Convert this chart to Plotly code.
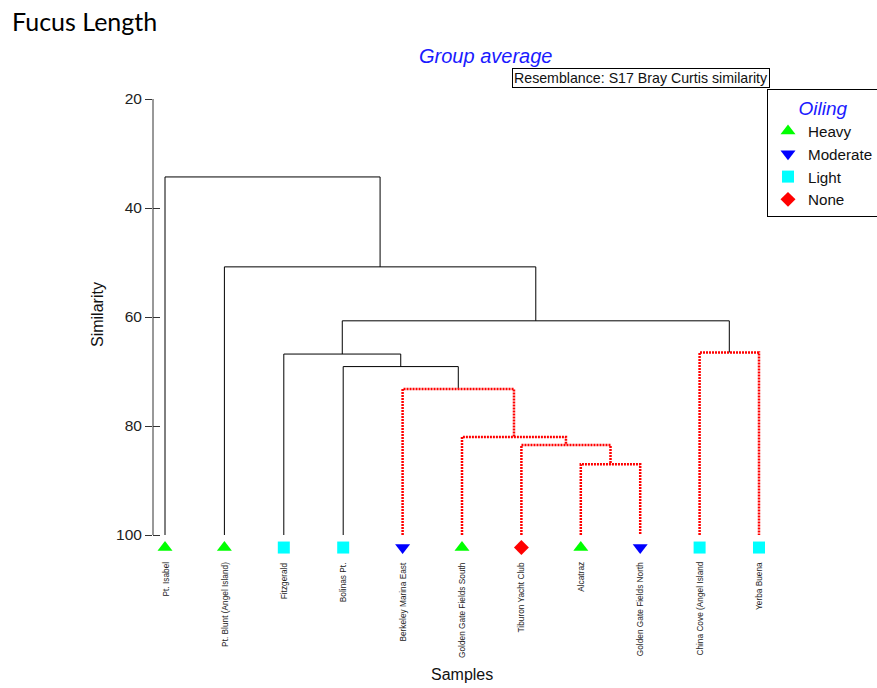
import plotly.graph_objects as go

# ---------------- data ----------------
leaf_names = ["Pt. Isabel", "Pt. Blunt (Angel Island)", "Fitzgerald", "Bolinas Pt.",
              "Berkeley Marina East", "Golden Gate Fields South", "Tiburon Yacht Club",
              "Alcatraz", "Golden Gate Fields North", "China Cove (Angel Island", "Yerba Buena"]
leaf_oiling = ["Heavy", "Heavy", "Light", "Light", "Moderate", "Heavy", "None",
               "Heavy", "Moderate", "Light", "Light"]

# merges: node ids 0..10 are leaves, 11.. are merge nodes in order
merge_left = [7, 6, 5, 4, 9, 3, 2, 17, 1, 0]
merge_right = [8, 11, 12, 13, 10, 14, 16, 15, 18, 19]
merge_similarity = [87.0, 83.5, 82.0, 73.2, 66.5, 69.1, 66.8, 60.7, 50.8, 34.3]
merge_simprof = [True, True, True, True, True, False, False, False, False, False]

oiling_levels = ["Heavy", "Moderate", "Light", "None"]
oiling_symbols = {"Heavy": "triangle-up", "Moderate": "triangle-down", "Light": "square", "None": "diamond"}
oiling_colors = {"Heavy": "#00ff00", "Moderate": "#0000ff", "Light": "#00ffff", "None": "#ff0000"}
oiling_sizes = {"Heavy": 13, "Moderate": 13, "Light": 12, "None": 11.5}

y_ticks = [20, 40, 60, 80, 100]

# ---------------- build dendrogram ----------------
n = len(leaf_names)
pos = {i: float(i) for i in range(n)}
hgt = {i: 100.0 for i in range(n)}
black_x, black_y, red_x, red_y = [], [], [], []
for k, (a, b, h, sig) in enumerate(zip(merge_left, merge_right, merge_similarity, merge_simprof)):
    node = n + k
    pos[node] = (pos[a] + pos[b]) / 2
    hgt[node] = h
    xs = [pos[a], pos[a], pos[b], pos[b], None]
    ys = [hgt[a], h, h, hgt[b], None]
    if sig:
        red_x += xs; red_y += ys
    else:
        black_x += xs; black_y += ys

fig = go.Figure()
fig.add_trace(go.Scatter(x=black_x, y=black_y, mode="lines", line=dict(color="black", width=1),
                         showlegend=False, hoverinfo="skip"))
fig.add_trace(go.Scatter(x=red_x, y=red_y, mode="lines",
                         line=dict(color="#ff0000", width=2.5, dash="2px,1px"),
                         showlegend=False, hoverinfo="skip"))

marker_row = 102.3
for lvl in oiling_levels:
    idx = [i for i in range(n) if leaf_oiling[i] == lvl]
    fig.add_trace(go.Scatter(
        x=[pos[i] for i in idx], y=[marker_row] * len(idx), mode="markers", name=lvl,
        marker=dict(symbol=oiling_symbols[lvl], color=oiling_colors[lvl], size=oiling_sizes[lvl],
                    line=dict(width=0)),
        cliponaxis=False, text=[leaf_names[i] for i in idx]))

# overlay axis for the inside half of the crossing ticks
fig.add_trace(go.Scatter(x=[], y=[], yaxis="y2", showlegend=False))

W, H = 877, 688
top_px, axis_bottom_px, plot_bottom_px = 99, 535, 560
L, R, T, B = 153, 107, top_px, H - plot_bottom_px
pw, ph = W - L - R, H - T - B
px_per_unit = (axis_bottom_px - top_px) / (100 - 20)
y_bottom = 100 + (plot_bottom_px - axis_bottom_px) / px_per_unit

def px_x(p):
    return (p - L) / pw

def px_y(p):
    return (H - B - p) / ph

# leaf labels
for i, name in enumerate(leaf_names):
    fig.add_annotation(x=pos[i], y=px_y(560), xref="x", yref="paper", text=name,
                       textangle=-90, xanchor="center", yanchor="top", showarrow=False,
                       font=dict(family="Liberation Sans, Arial", size=8.3, color="#222"))

fig.add_annotation(x=px_x(462), y=px_y(674), xref="paper", yref="paper", text="Samples",
                   xanchor="center", yanchor="middle",
                   showarrow=False, font=dict(family="Liberation Sans, Arial", size=16, color="#111"))
fig.add_annotation(x=px_x(97), y=px_y(315), xref="paper", yref="paper", text="Similarity",
                   xanchor="center", yanchor="middle",
                   textangle=-90, showarrow=False,
                   font=dict(family="Liberation Sans, Arial", size=16, color="#111"))
fig.add_annotation(x=px_x(485), y=px_y(56), xref="paper", yref="paper", text="<i>Group average</i>",
                   xanchor="center", yanchor="middle",
                   showarrow=False, font=dict(family="Liberation Sans, Arial", size=20, color="#1a1aff"))
fig.add_annotation(x=px_x(640.5), y=px_y(78.5), xref="paper", yref="paper",
                   xanchor="center", yanchor="middle",
                   text="Resemblance: S17 Bray Curtis similarity", showarrow=False,
                   bordercolor="black", borderwidth=1, borderpad=1, bgcolor="white",
                   font=dict(family="Liberation Sans, Arial", size=14.2, color="#111"))

# y-axis line from 20 to 100 only
fig.add_shape(type="line", xref="paper", yref="y", x0=0, x1=0, y0=20, y1=100,
              line=dict(color="#333", width=1))

fig.update_layout(
    width=W, height=H,
    margin=dict(l=L, r=R, t=T, b=B, autoexpand=False),
    paper_bgcolor="white", plot_bgcolor="white",
    title=dict(text="Fucus Length", x=12 / W, xanchor="left", xref="container",
               y=1 - 22 / H, yanchor="middle", yref="container",
               font=dict(family="Lato", size=25, color="black")),
    xaxis=dict(range=[(L - 165) / 59.4, (W - R - 165) / 59.4], visible=False),
    yaxis=dict(range=[y_bottom, 20], tickvals=y_ticks, ticks="outside", ticklen=7, tickcolor="#333",
               showline=False, showgrid=False, zeroline=False,
               tickfont=dict(family="Liberation Sans, Arial", size=15.5, color="#222")),
    yaxis2=dict(range=[y_bottom, 20], overlaying="y", side="left", tickvals=y_ticks, ticks="inside",
                ticklen=7, tickcolor="#333", showticklabels=False, showgrid=False, zeroline=False,
                showline=False),
    legend=dict(x=px_x(767), y=px_y(89), xanchor="left", yanchor="top",
                bordercolor="black", borderwidth=1, bgcolor="white",
                font=dict(family="Liberation Sans, Arial", size=15.2, color="#111"),
                title=dict(text="<i>Oiling</i>", side="top center",
                           font=dict(family="Liberation Sans, Arial", size=19, color="#1a1aff"))),
    showlegend=True,
)

fig.write_html("out.html", config={"displayModeBar": False},
               post_script="document.body.style.margin='0';")
